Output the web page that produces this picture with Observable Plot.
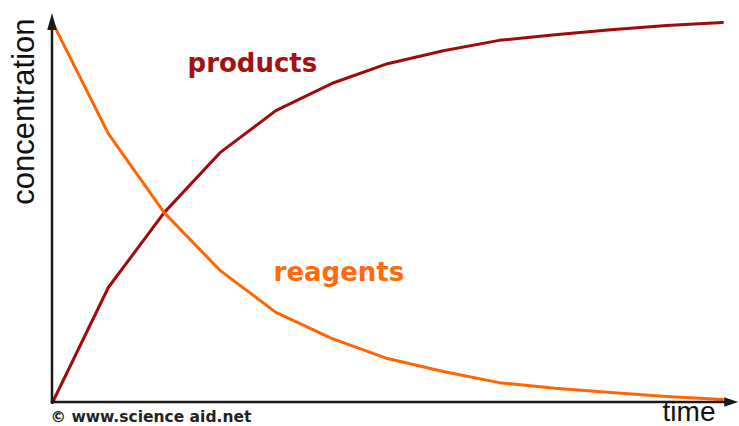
<!DOCTYPE html>
<html>
<head>
<meta charset="utf-8">
<script src="https://cdn.jsdelivr.net/npm/d3@7"></script>
<script src="https://cdn.jsdelivr.net/npm/@observablehq/plot@0.6"></script>
<style>
  html, body { margin: 0; padding: 0; background: #fff; }
  #chart svg { display: block; overflow: visible; }
</style>
</head>
<body>
<div id="chart"></div>
<script>
// ---- data ----
const time = [0, 1, 2, 3, 4, 5, 6, 7, 8, 9, 10, 11, 12];
const products = [0, 0.301, 0.497, 0.654, 0.764, 0.835, 0.887, 0.921, 0.948, 0.963, 0.976, 0.987, 0.995];
const reagents = [0.995, 0.704, 0.497, 0.346, 0.236, 0.168, 0.115, 0.081, 0.052, 0.037, 0.026, 0.016, 0.008];
const seriesNames = ["products", "reagents"];
const seriesLineColors = ["#a00a0a", "#ff6600"];
const seriesLabelColors = ["#a01414", "#ff6a0a"];
const labelTime = [3.58, 5.13];
const labelConc = [0.866, 0.317];
const axisTitles = ["concentration", "time"];
const credit = "© www.science aid.net";
const axisTip = [12.29, 1.018];

const rows = [];
time.forEach((t, i) => {
  rows.push({t, c: products[i], s: seriesNames[0]});
  rows.push({t, c: reagents[i], s: seriesNames[1]});
});
const labels = seriesNames.map((s, i) => ({s, t: labelTime[i], c: labelConc[i], color: seriesLabelColors[i]}));

// axes with filled arrowheads, drawn through the plot's scales
function axesMark(index, scales) {
  const x = scales.x, y = scales.y;
  const x0 = x(0), y0 = y(0), xt = x(axisTip[0]), yt = y(axisTip[1]);
  const g = d3.create("svg:g");
  const col = "#1a1a1a";
  g.append("line").attr("x1", x0).attr("x2", x0).attr("y1", y0 + 1.5).attr("y2", yt + 12)
    .attr("stroke", col).attr("stroke-width", 2.5);
  g.append("line").attr("x1", x0 - 1.25).attr("x2", xt - 10).attr("y1", y0).attr("y2", y0)
    .attr("stroke", col).attr("stroke-width", 2.5);
  g.append("path").attr("d", `M${x0},${yt}L${x0 - 4.8},${yt + 17}L${x0 + 4.8},${yt + 17}Z`).attr("fill", col);
  g.append("path").attr("d", `M${xt},${y0}L${xt - 14},${y0 - 4.8}L${xt - 14},${y0 + 4.8}Z`).attr("fill", col);
  return g.node();
}

const chart = Plot.plot({
  width: 739,
  height: 426,
  marginLeft: 52,
  marginRight: 17,
  marginTop: 20,
  marginBottom: 24,
  x: {domain: [0, 12], axis: null},
  y: {domain: [0, 1], axis: null},
  color: {domain: seriesNames, range: seriesLineColors},
  style: {background: "#fff", overflow: "visible"},
  marks: [
    Plot.line(rows, {x: "t", y: "c", z: "s", stroke: "s", strokeWidth: 3, strokeLinejoin: "round", strokeLinecap: "round"}),
    axesMark,
    Plot.text(labels, {x: "t", y: "c", text: "s", fill: "color", lineAnchor: "bottom", textAnchor: "middle",
      fontFamily: "DejaVu Sans", fontWeight: "bold", fontSize: 26}),
    Plot.text([axisTitles[0]], {frameAnchor: "top-left", text: d => d, rotate: -90, textAnchor: "end", lineAnchor: "bottom",
      dx: -19, dy: -2, fontFamily: "Liberation Sans", fontSize: 31, fill: "#111"}),
    Plot.text([axisTitles[1]], {frameAnchor: "bottom-right", text: d => d, textAnchor: "end", lineAnchor: "bottom",
      dx: -7, dy: 18, fontFamily: "Liberation Sans", fontSize: 28, fill: "#111"}),
    Plot.text([credit], {frameAnchor: "bottom-left", text: d => d, textAnchor: "start", lineAnchor: "bottom",
      dx: -2, dy: 19, fontFamily: "DejaVu Sans", fontWeight: "bold", fontSize: 15.5, fill: "#222"})
  ]
});
document.getElementById("chart").appendChild(chart);
</script>
</body>
</html>
